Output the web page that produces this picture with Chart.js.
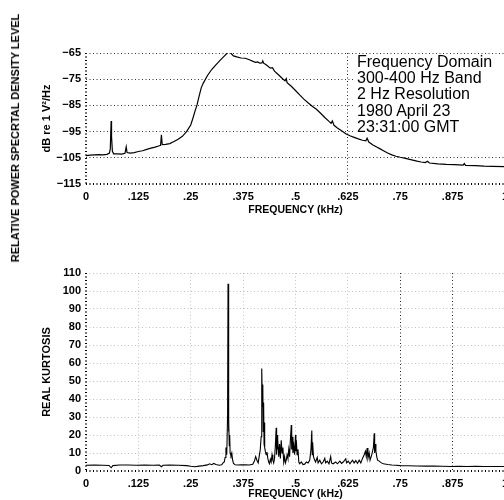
<!DOCTYPE html>
<html><head><meta charset="utf-8">
<script src="https://cdn.jsdelivr.net/npm/chart.js@4"></script>
<style>
html,body{margin:0;padding:0;background:#fff;overflow:hidden;width:504px;height:500px;}
#wrap{position:relative;width:504px;height:500px;overflow:hidden;}
canvas{position:absolute;left:0;}
#c1{top:0;} #c2{top:250px;}
#outer{position:absolute;left:15px;top:138px;transform:translate(-50%,-50%) rotate(-90deg);white-space:nowrap;font:bold 11px "Liberation Sans",Arial,sans-serif;color:#000;}
#info{position:absolute;left:353px;top:54px;width:160px;padding-left:4px;background:#fff;font:16px "Liberation Sans",Arial,sans-serif;line-height:16.2px;color:#000;white-space:nowrap;}
</style></head>
<body><div id="wrap">
<canvas id="c1" width="514" height="225"></canvas>
<canvas id="c2" width="514" height="250"></canvas>
<div id="outer">RELATIVE POWER SPECRTAL DENSITY LEVEL</div>
<div id="info"></div>
</div>
<script>
const infoLines = ['Frequency Domain','300-400 Hz Band','2 Hz Resolution','1980 April 23','23:31:00 GMT'];
const xTickValues = [0,0.125,0.25,0.375,0.5,0.625,0.75,0.875,1];
const xTickLabels = ['0','.125','.25','.375','.5','.625','.75','.875','1'];
const psdTickLabels = ['\u2212115','\u2212105','\u221295','\u221285','\u221275','\u221265'];

const psdFreq = [0.000,0.010,0.020,0.030,0.040,0.050,0.056,0.058,0.060,0.061,0.063,0.066,0.075,0.085,0.093,0.096,0.098,0.105,0.115,0.125,
0.135,0.145,0.155,0.165,0.175,0.178,0.180,0.182,0.190,0.200,0.210,0.220,0.230,0.240,0.250,0.255,0.260,0.265,0.270,0.275,
0.280,0.290,0.300,0.310,0.320,0.330,0.335,0.340,0.343,0.347,0.352,0.360,0.370,0.380,0.390,0.400,0.405,0.410,0.415,0.420,
0.422,0.424,0.430,0.440,0.445,0.450,0.460,0.470,0.475,0.478,0.480,0.490,0.500,0.510,0.520,0.530,0.540,0.550,0.560,0.570,
0.580,0.585,0.588,0.592,0.600,0.610,0.620,0.630,0.640,0.650,0.660,0.668,0.671,0.675,0.685,0.695,0.700,0.710,0.720,0.730,
0.740,0.750,0.760,0.770,0.780,0.790,0.800,0.810,0.815,0.820,0.840,0.860,0.880,0.900,0.903,0.906,0.930,0.950,0.970,1.000];
const psdLevel = [-104.2,-104.0,-103.9,-103.8,-103.9,-103.7,-103.2,-101.5,-91.0,-97.0,-102.5,-103.5,-103.5,-103.6,-103.3,-100.8,-103.0,-103.2,-103.0,-102.6,
-102.3,-101.8,-101.3,-100.9,-100.4,-100.2,-96.2,-100.0,-99.9,-99.6,-98.8,-97.9,-96.8,-95.0,-92.5,-90.0,-87.3,-84.8,-81.5,-78.3,
-76.5,-73.6,-71.3,-69.5,-67.8,-66.2,-65.4,-64.6,-64.4,-65.3,-66.1,-66.5,-66.9,-67.0,-67.6,-68.3,-68.6,-68.4,-68.9,-68.8,
-68.0,-68.9,-69.5,-70.8,-70.6,-71.9,-73.4,-74.9,-75.6,-74.8,-76.3,-77.7,-79.3,-81.0,-82.6,-84.0,-85.3,-86.5,-88.0,-89.6,
-91.1,-91.8,-90.9,-92.6,-93.6,-94.7,-95.8,-96.6,-97.2,-97.8,-98.3,-98.5,-97.5,-99.0,-100.1,-101.0,-101.4,-102.3,-103.2,-103.9,
-104.4,-104.8,-105.1,-105.5,-105.9,-106.3,-106.6,-106.8,-106.3,-107.0,-107.3,-107.5,-107.6,-107.8,-107.2,-107.9,-108.0,-108.2,-108.3,-108.4];

const kurtFreq = [0.000,0.020,0.040,0.055,0.060,0.064,0.080,0.100,0.120,0.140,0.160,0.175,0.180,0.184,0.200,0.220,0.240,0.250,0.260,0.270,
0.280,0.290,0.295,0.300,0.305,0.310,0.318,0.324,0.328,0.330,0.332,0.334,0.336,0.338,0.339,0.340,0.341,0.342,0.343,0.344,
0.346,0.348,0.350,0.352,0.356,0.362,0.370,0.380,0.390,0.398,0.402,0.405,0.408,0.411,0.414,0.416,0.418,0.419,0.420,0.421,
0.422,0.423,0.424,0.425,0.426,0.427,0.428,0.430,0.432,0.434,0.436,0.438,0.440,0.442,0.444,0.446,0.448,0.450,0.452,0.454,
0.455,0.456,0.457,0.458,0.460,0.462,0.464,0.466,0.468,0.470,0.472,0.474,0.476,0.478,0.480,0.482,0.484,0.486,0.488,0.490,
0.491,0.492,0.494,0.496,0.498,0.500,0.501,0.502,0.504,0.506,0.508,0.510,0.514,0.518,0.522,0.526,0.530,0.534,0.537,0.539,
0.540,0.541,0.543,0.545,0.548,0.552,0.554,0.558,0.562,0.566,0.570,0.572,0.576,0.580,0.584,0.586,0.590,0.596,0.600,0.606,
0.610,0.614,0.620,0.622,0.626,0.630,0.636,0.640,0.644,0.648,0.652,0.656,0.660,0.664,0.667,0.669,0.671,0.673,0.676,0.678,
0.682,0.686,0.688,0.689,0.690,0.692,0.694,0.696,0.700,0.705,0.710,0.720,0.730,0.740,0.750,0.770,0.790,0.810,0.830,0.850,
0.870,0.890,0.910,0.930,0.950,0.970,1.000];
const kurtValue = [3.2,3.3,3.2,3.1,1.8,3.0,3.3,3.3,3.2,3.3,3.2,3.3,2.4,3.2,3.3,3.2,3.0,2.6,2.4,2.7,
3.0,3.4,4.0,3.5,4.2,3.6,3.2,3.5,4.8,5.0,7.5,13,9,31,104,22,29,14,20,10,
8.5,10,6,4.2,3.5,3.3,3.4,3.5,3.3,3.8,5.5,8,6,4.5,9,12,19,46,57,36,
48,22,38,15,27,13,11,9,10.5,7,5,4,6.5,5,9,6,4.5,7,14,24,
9,20,12,18,8,15,7,17,10,13,5,8,4.5,6,9,7,12,8,18,25.5,
12,19,10,14,9,20,11,17,9,12,5,4,5,3.6,3.8,5,4.5,6,12,22.5,
9,16,8,6.5,5,7.5,4.5,6,4,5,7,4.5,5.5,4,8,4.5,4,5,4,5.5,
4.2,5,6.8,4.5,5.5,4,6,4.5,5.8,4.2,6,4.5,7,9,11,8,12.8,7,10,6,
9,13,21,10,15,11,8,6,5.5,4.5,4,3.6,3.3,3.2,3.0,2.9,2.8,2.7,2.7,2.6,
2.5,2.6,2.5,2.6,2.5,2.5,2.5];

document.getElementById('info').innerHTML = infoLines.join('<br>');

const FONT = '"Liberation Sans", Arial, sans-serif';
const tickFont = {family: FONT, size: 11, weight: 'bold'};
const titleFont = {family: FONT, size: 11, weight: 'bold'};
// border.dash also sets the dash of the grid lines in Chart.js v4; the axis lines are the grid lines at the min values
const gridBorder = {display: false, dash: [1, 2.5]};

function xScale(gridColor, axisHeight, titlePadBottom) {
  return {
    type: 'linear', min: 0, max: 1,
    afterBuildTicks: s => { s.ticks = xTickValues.map(v => ({value: v})); },
    afterFit: s => { s.height = axisHeight; },
    ticks: {color: '#000', font: tickFont, padding: 6, maxRotation: 0, autoSkip: false,
      callback: (v, i) => xTickLabels[i]},
    grid: {drawTicks: false,
      color: c => (c.tick && c.tick.value === 0) ? '#000' : gridColor(c),
      lineWidth: c => (c.tick && c.tick.value === 0) ? 2 : 1},
    border: gridBorder,
    title: {display: true, text: 'FREQUENCY (kHz)', color: '#000',
      font: {family: FONT, size: 10.5, weight: 'bold'}, padding: {top: 0, bottom: titlePadBottom}}
  };
}

function yScale(min, max, labels, titleText, gridColor) {
  return {
    min: min, max: max,
    afterFit: s => { s.width = 48; },
    ticks: {stepSize: 10, color: '#000', font: tickFont, padding: 5,
      callback: labels ? ((v, i) => labels[i]) : (v => String(v))},
    grid: {drawTicks: false,
      color: c => (c.tick && c.tick.value === min) ? '#000' : gridColor,
      lineWidth: c => (c.tick && c.tick.value === min) ? 2 : 1},
    border: gridBorder,
    title: {display: true, text: titleText, color: '#000', font: titleFont, padding: {top: 2, bottom: 0}}
  };
}

new Chart(document.getElementById('c1'), {
  type: 'line',
  data: {datasets: [{data: psdFreq.map((f, i) => ({x: f, y: psdLevel[i]})),
    borderColor: '#000', borderWidth: 1.2, pointRadius: 0, tension: 0, fill: false}]},
  options: {
    responsive: false, animation: false, events: [],
    layout: {padding: {left: 38, top: 53, right: 0, bottom: 0}},
    plugins: {legend: {display: false}, tooltip: {enabled: false}},
    scales: {
      x: xScale(c => (c.tick && c.tick.value === 0.625) ? '#222' : 'rgba(0,0,0,0)', 41, 9),
      y: yScale(-115, -65, psdTickLabels, 'dB re 1 V\u00B2/Hz', '#333')
    }
  }
});

new Chart(document.getElementById('c2'), {
  type: 'line',
  data: {datasets: [{data: kurtFreq.map((f, i) => ({x: f, y: kurtValue[i]})),
    borderColor: '#000', borderWidth: 1.1, pointRadius: 0, tension: 0, fill: false}]},
  options: {
    responsive: false, animation: false, events: [],
    layout: {padding: {left: 38, top: 23, right: 0, bottom: 0}},
    plugins: {legend: {display: false}, tooltip: {enabled: false}},
    scales: {
      x: xScale(c => (c.tick && c.tick.value >= 0.75) ? '#222' : 'rgba(0,0,0,0.22)', 29, 0),
      y: yScale(0, 110, null, 'REAL KURTOSIS', 'rgba(0,0,0,0.25)')
    }
  }
});
</script>
</body></html>
